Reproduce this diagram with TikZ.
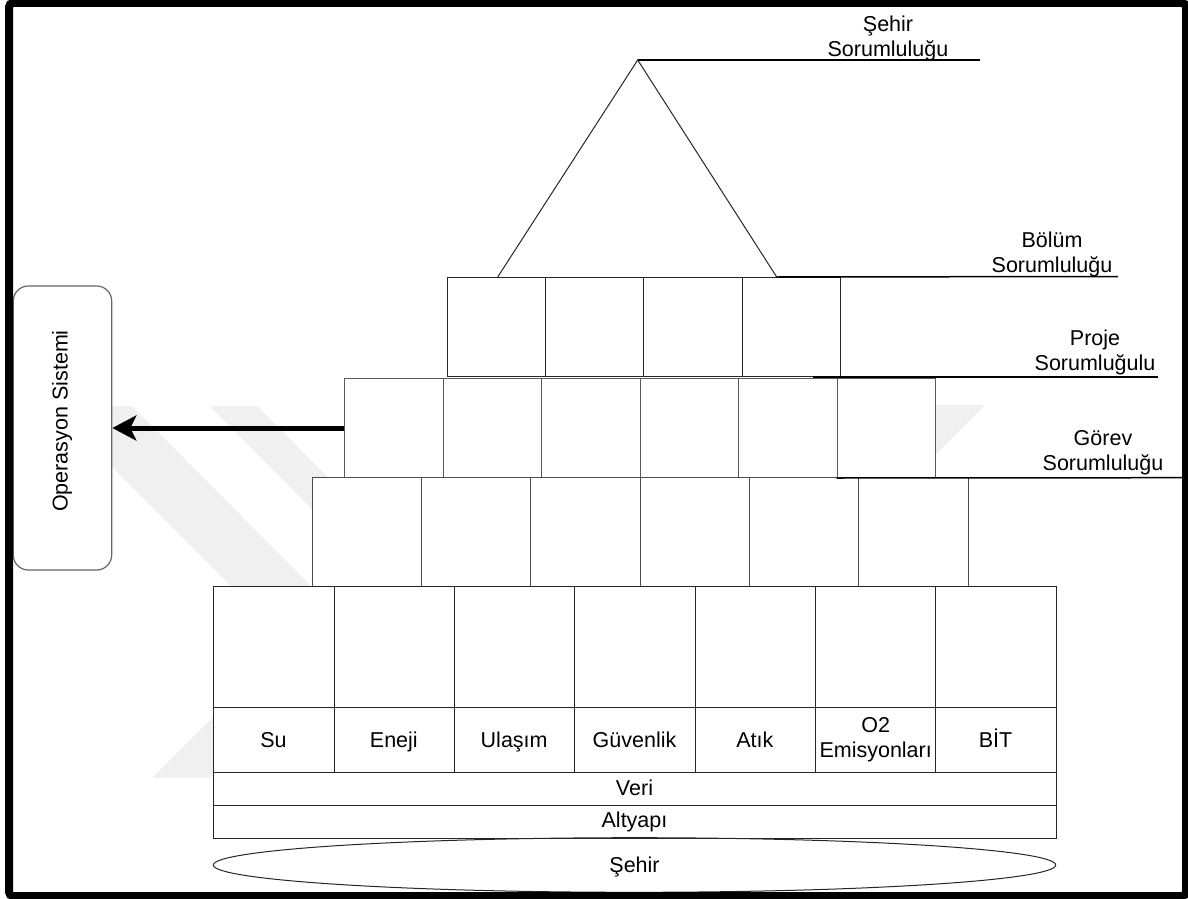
\documentclass[tikz,border=0pt]{standalone}
\usepackage{fontspec}
\setmainfont{Liberation Sans}
\usetikzlibrary{arrows.meta,shapes.geometric}
\begin{document}
\begin{tikzpicture}[x=1pt,y=-1pt,
  cell/.style={draw=#1, fill=white, line width=1pt, inner sep=0pt, anchor=north west},
  cell/.default=black!85,
  lbl/.style={font=\fontsize{21.5}{25}\selectfont, align=center, inner sep=0pt},
  onbase/.style={lbl, anchor=base},
  leader/.style={draw=black, line width=1.5pt},
  emblem/.style={fill=black!6, draw=none},
  push/.style={draw=black, line width=5pt, -{Stealth[length=24pt,width=25pt,inset=6pt]}}
]
\useasboundingbox (0,0) rectangle (1188,899);

% faint background emblem
\fill[emblem] (51,406) -- (132,406) -- (351,626) -- (271,626) -- cycle;
\fill[emblem] (210,406) -- (257,406) -- (420,570) -- (372,570) -- cycle;
\fill[emblem] (152,778) -- (209,778) -- (337,650) -- (280,650) -- cycle;
\fill[emblem] (880,405) -- (985,405) -- (900,490) -- (850,490) -- cycle;

% top level: triangle
\coordinate (apex) at (637.7,60);
\coordinate (bl) at (497.7,277);
\coordinate (br) at (776.7,277);
\draw[line width=1pt, black!85] (bl) -- (apex) -- (br);

% row 1
\foreach \i in {0,...,3}
  \node[cell, minimum width=98.33pt, minimum height=99pt] (a\i) at ({446.7+\i*98.33},277) {};
% row 2
\foreach \i in {0,...,5}
  \node[cell=black!65, minimum width=98.45pt, minimum height=99pt] (b\i) at ({344.3+\i*98.45},378) {};
% row 3
\foreach \i in {0,...,5}
  \node[cell=black!70, minimum width=109.33pt, minimum height=108.5pt] (c\i) at ({311.7+\i*109.33},477) {};
% row 4: upper cells and label cells
\foreach \i in {0,...,6} {
  \node[cell, minimum width=120.34pt, minimum height=120.7pt] (d\i) at ({213.3+\i*120.34},586) {};
  \node[cell, minimum width=120.34pt, minimum height=65.6pt] (e\i) at ({213.3+\i*120.34},706.7) {};
}
% domain labels
\foreach \i/\name in {0/Su,1/Eneji,2/Ulaşım,3/Güvenlik,4/Atık,6/BİT}
  \node[onbase] (t\i) at ({273.47+\i*120.34},747) {\name};
\node[lbl] (t5) at (e5.center) {O2\\Emisyonları};

% base layers
\node[cell, minimum width=842.4pt, minimum height=32.7pt] (veri) at (213.3,772.3) {};
\node[onbase] (veriT) at (634.5,795) {Veri};
\node[cell, minimum width=842.4pt, minimum height=32.7pt] (alt) at (213.3,805) {};
\node[onbase] (altT) at (634.5,827) {Altyapı};
\node[draw=black!85, line width=1pt, ellipse, inner sep=0pt, minimum width=842.4pt, minimum height=54.6pt] (city) at (634.5,865) {};
\node[onbase] (cityT) at (634.5,872) {Şehir};

% responsibility labels with leader lines
\coordinate (s1) at (980,60);
\draw[leader] (apex) -- (s1);
\node[lbl] (sehirL) at (888,38) {Şehir\\Sorumluluğu};

\coordinate (s2) at (1118,276.5);
\draw[leader] (br) -- (s2);
\node[lbl] (bolumL) at (1052,254) {Bölüm\\Sorumluluğu};

\coordinate (p0) at (813,377);
\coordinate (p1) at (1158,377);
\draw[leader] (p0) -- (p1);
\node[lbl] (projeL) at (1095,352) {Proje\\Sorumluğulu};

\coordinate (g1) at (1182,477.7);
\draw[leader] (b5.south west) -- (g1);
\node[lbl] (gorevL) at (1103,453) {Görev\\Sorumluluğu};

% operation system box and arrow
\node[draw=black!60, fill=white, line width=1.2pt, rounded corners=15pt, inner sep=0pt,
      minimum width=98.4pt, minimum height=284pt] (ops) at (62.5,428) {};
\node[lbl, rotate=90] (opsT) at (62,421) {Operasyon Sistemi};
\draw[push] (b0.west) -- (ops.east);

% frame
\draw[line width=8pt, rounded corners=4pt] (9,3) rectangle (1186,896);
\end{tikzpicture}
\end{document}
